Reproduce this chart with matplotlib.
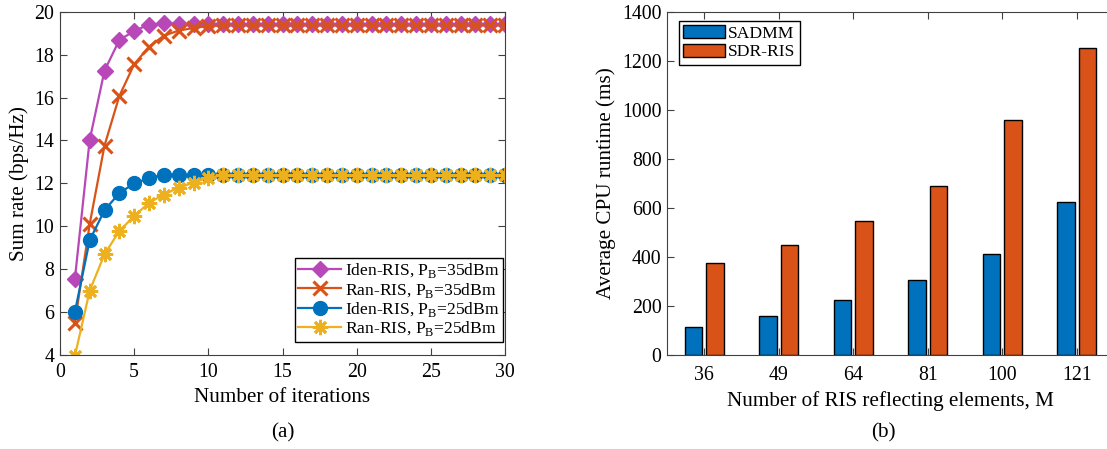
import numpy as np
import matplotlib
matplotlib.use('Agg')
import matplotlib.pyplot as plt

plt.rcParams['font.family'] = ['Liberation Serif', 'DejaVu Serif']
plt.rcParams['mathtext.fontset'] = 'custom'
plt.rcParams['mathtext.rm'] = 'Liberation Serif'

# ---- data, panel (a) ----
iterations = np.arange(1, 31)
iden_35 = [7.53, 14.02, 17.25, 18.68, 19.10, 19.40, 19.45, 19.43] + [19.42] * 22
ran_35 = [5.50, 10.10, 13.76, 16.07, 17.55, 18.37, 18.88, 19.12, 19.24, 19.33] + [19.36] * 20
iden_25 = [6.00, 9.35, 10.75, 11.55, 12.00, 12.24, 12.41, 12.40] + [12.40] * 22
ran_25 = [3.95, 7.00, 8.70, 9.78, 10.48, 11.10, 11.48, 11.80, 12.03, 12.27, 12.38] + [12.38] * 19

# ---- data, panel (b) ----
M_labels = ['36', '49', '64', '81', '100', '121']
sadmm = [115, 160, 224, 306, 412, 625]
sdr_ris = [374, 447, 548, 690, 958, 1252]

TICK_FS = 14.3
LABEL_FS = 15.2
LEG_FS = 12.6

fig = plt.figure(figsize=(11.07, 4.49), dpi=100)

# (a) sum rate vs iterations
ax1 = fig.add_axes([0.0542, 0.209, 0.402, 0.765])
ax1.plot(iterations, iden_35, '-D', color='#B847B8', lw=1.6, ms=8.5,
         label=r'Iden-RIS, P$_\mathregular{B}$=35dBm')
ax1.plot(iterations, ran_35, '-x', color='#D95319', lw=1.6, ms=10, mew=2.2,
         label=r'Ran-RIS, P$_\mathregular{B}$=35dBm')
ax1.plot(iterations, iden_25, '-o', color='#0072BD', lw=1.6, ms=10,
         label=r'Iden-RIS, P$_\mathregular{B}$=25dBm')
ax1.plot(iterations, ran_25, '-', marker=(8, 2, 0), color='#EDB120', lw=1.6, ms=11, mew=2,
         label=r'Ran-RIS, P$_\mathregular{B}$=25dBm')
ax1.set_xlim(0, 30)
ax1.set_ylim(4, 20)
ax1.set_xticks(range(0, 31, 5))
ax1.set_yticks(range(4, 21, 2))
ax1.set_xlabel('Number of iterations', fontsize=LABEL_FS, labelpad=4)
ax1.set_ylabel('Sum rate (bps/Hz)', fontsize=LABEL_FS, labelpad=4)
ax1.tick_params(direction='in', top=True, right=True, labelsize=TICK_FS, length=5,
                color='#404040')
ax1.tick_params(axis='x', pad=6)
ax1.tick_params(axis='y', pad=4)
ax1.legend(loc='lower right', bbox_to_anchor=(0.995, 0.039), borderaxespad=0,
           fontsize=LEG_FS, fancybox=False, edgecolor='black', framealpha=1,
           handlelength=2.45, labelspacing=0.02, handletextpad=0.2, borderpad=0.2)
for s in ax1.spines.values():
    s.set_color('#404040')
ax1.text(0.5, -0.227, '(a)', transform=ax1.transAxes, ha='center', va='center',
         fontsize=LABEL_FS)

# (b) CPU runtime vs M
ax2 = fig.add_axes([0.6025, 0.209, 0.4038, 0.765])
pos = np.arange(1, len(M_labels) + 1)
w = 0.237
ax2.bar(pos - 0.143, sadmm, w, color='#0072BD', edgecolor='black', lw=1, label='SADMM')
ax2.bar(pos + 0.143, sdr_ris, w, color='#D95319', edgecolor='black', lw=1, label='SDR-RIS')
ax2.set_xlim(0.5, 6.5)
ax2.set_ylim(0, 1400)
ax2.set_xticks(pos)
ax2.set_xticklabels(M_labels)
ax2.set_yticks(range(0, 1401, 200))
ax2.set_xlabel('Number of RIS reflecting elements, M', fontsize=LABEL_FS, labelpad=4)
ax2.set_ylabel('Average CPU runtime (ms)', fontsize=LABEL_FS, labelpad=4)
ax2.tick_params(direction='in', top=True, right=True, labelsize=TICK_FS, length=5,
                color='#404040')
ax2.tick_params(axis='x', pad=8)
ax2.tick_params(axis='y', pad=4)
ax2.legend(loc='upper left', bbox_to_anchor=(0.027, 0.973), borderaxespad=0,
           fontsize=LEG_FS, fancybox=False, edgecolor='black', framealpha=1,
           handlelength=2.35, handleheight=0.76, labelspacing=0.1,
           handletextpad=0.2, borderpad=0.25)
for s in ax2.spines.values():
    s.set_color('#404040')
ax2.text(0.4845, -0.227, '(b)', transform=ax2.transAxes, ha='center', va='center',
         fontsize=LABEL_FS)

fig.savefig('out.png', dpi=100)
